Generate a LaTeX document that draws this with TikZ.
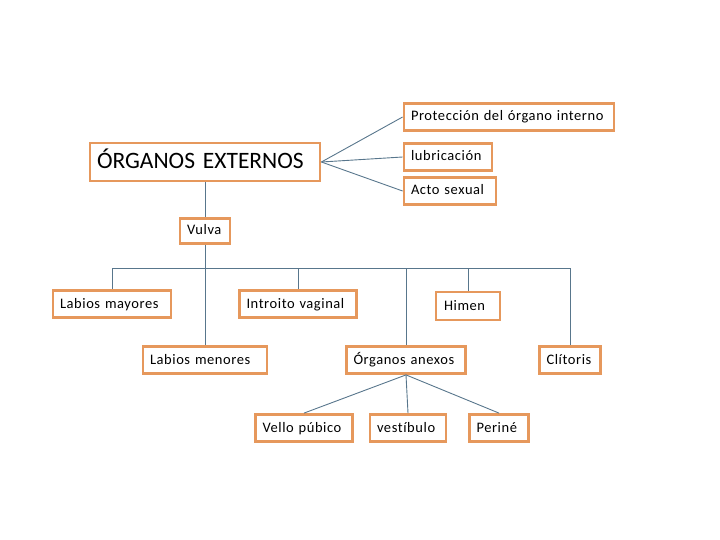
\documentclass[tikz,border=0pt]{standalone}
\usepackage{fontspec}
\setmainfont[Ligatures=NoCommon]{Carlito}
\usetikzlibrary{positioning}
\definecolor{BoxOrange}{RGB}{230,152,92}
\definecolor{LinkGray}{RGB}{88,118,140}

\begin{document}
\begin{tikzpicture}[x=1pt,y=-1pt,
    caja/.style={draw=BoxOrange,line width=2.8pt,fill=white,inner xsep=7pt,inner ysep=2pt,
      align=left,minimum height=27pt,text height=10pt,text depth=2pt,
      font=\fontsize{14.5}{16}\selectfont\addfontfeature{LetterSpace=4}},
    enlace/.style={LinkGray,line width=0.9pt}]
      \useasboundingbox (0,0) rectangle (720,540);
      \node[caja,text width=216pt,minimum height=38pt,text height=16pt,text depth=3pt,font=\fontsize{23.5}{26}\selectfont] (externos) at (205,162){ÓRGANOS EXTERNOS};
      \node[caja,text width=196pt] (proteccion) at (509,117){Protección del órgano interno};
      \node[caja,text width=74pt] (lubricacion) at (448,157){lubricación};
      \node[caja,text width=78pt] (acto) at (450,191){Acto sexual};
      \node[caja,text width=36pt,minimum height=25pt] (vulva) at (205,231){Vulva};
      \node[caja,text width=104pt] (lmayores) at (112,304){Labios mayores};
      \node[caja,text width=103pt] (introito) at (298,304){Introito vaginal};
      \node[caja,text width=48pt,minimum height=28pt,inner xsep=8pt] (himen) at (468,306){Himen};
      \node[caja,text width=110pt] (lmenores) at (205,360){Labios menores};
      \node[caja,text width=105pt] (anexos) at (406,360){Órganos anexos};
      \node[caja,text width=47pt] (clitoris) at (570,360){Clítoris};
      \node[caja,text width=83pt] (vello) at (304,428){Vello púbico};
      \node[caja,text width=62pt] (vestibulo) at (408,428){vestíbulo};
      \node[caja,text width=45pt] (perine) at (499,428){Periné};
      \coordinate (bus) at (0,268);
      % funciones
      \draw[enlace] (externos.east) -- (proteccion.west);
      \draw[enlace] (externos.east) -- (lubricacion.west);
      \draw[enlace] (externos.east) -- (acto.west);
      % vulva y sus partes
      \draw[enlace] (externos.south) -- (vulva.north);
      \draw[enlace] (vulva.south) -- (lmenores.north);
      \draw[enlace] (vulva.south |- bus) -| (lmayores.north);
      \draw[enlace] (vulva.south |- bus) -| (introito.north);
      \draw[enlace] (vulva.south |- bus) -| (anexos.north);
      \draw[enlace] (vulva.south |- bus) -| (himen.north);
      \draw[enlace] (vulva.south |- bus) -| (clitoris.north);
      % organos anexos
      \draw[enlace] (anexos.south) -- (vello.north);
      \draw[enlace] (anexos.south) -- (vestibulo.north);
      \draw[enlace] (anexos.south) -- (perine.north);
    \end{tikzpicture}
\end{document}
